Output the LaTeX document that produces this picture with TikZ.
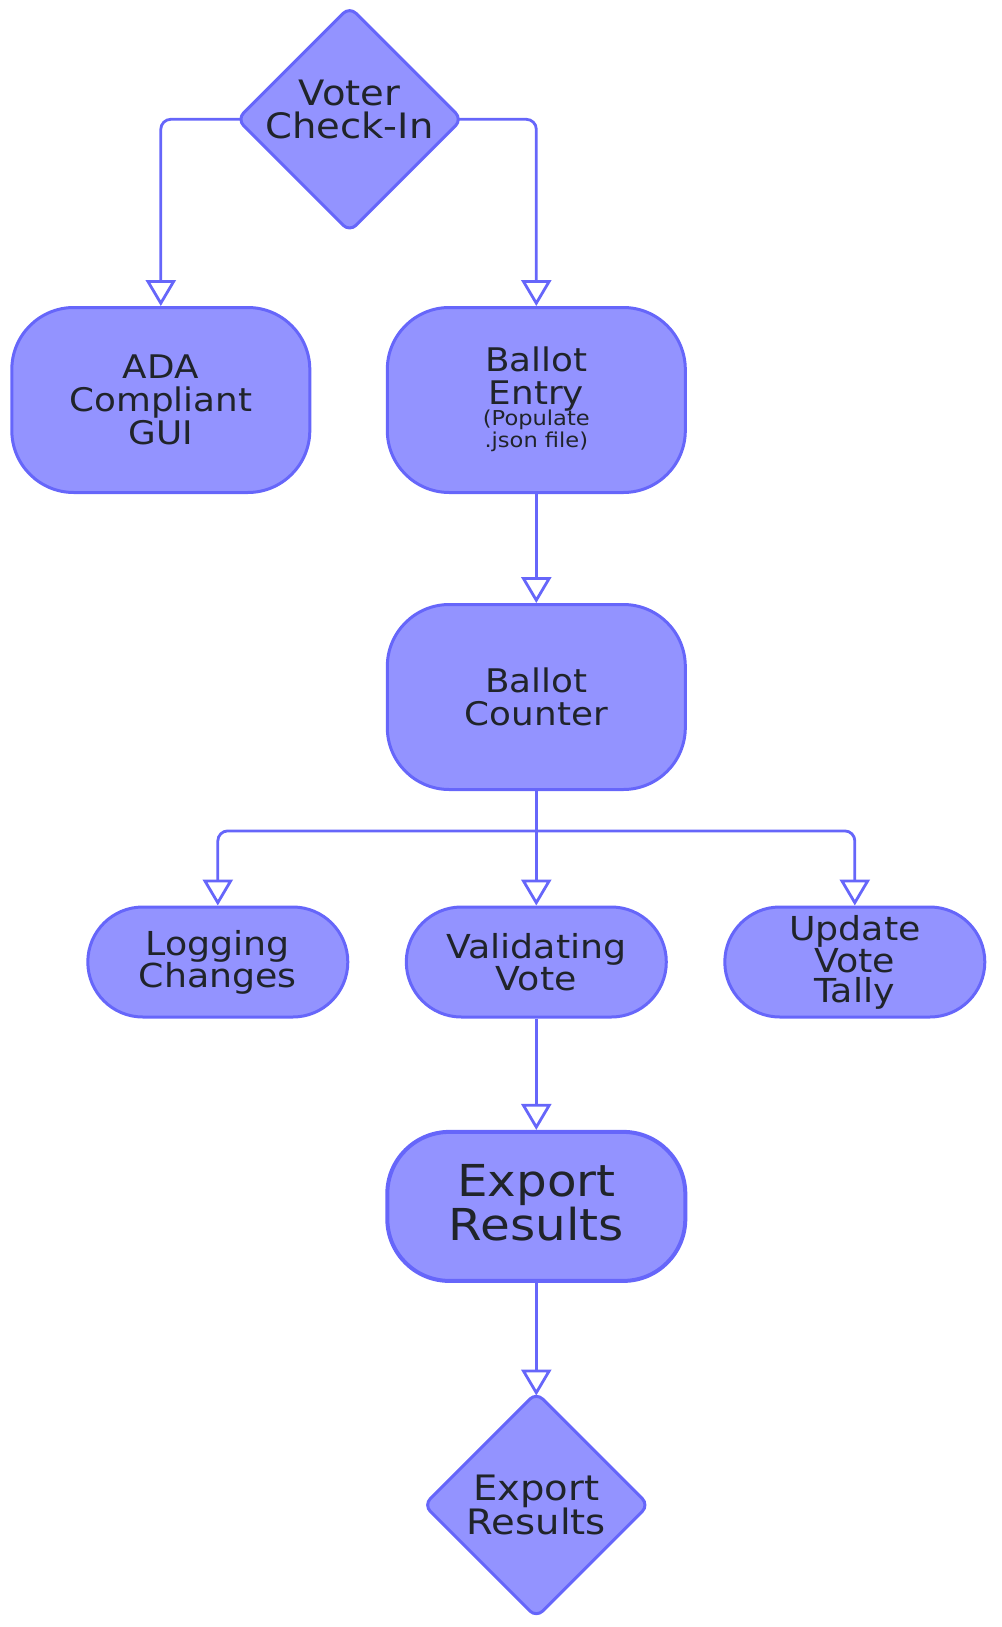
\documentclass[tikz,border=0pt]{standalone}
\usepackage{fontspec}
\setmainfont{DejaVu Sans}[FakeStretch=1.1]
\usetikzlibrary{arrows.meta,shapes.geometric}
\definecolor{boxfill}{RGB}{147,147,255}
\definecolor{boxline}{RGB}{102,102,250}
\definecolor{txt}{RGB}{32,36,42}
\begin{document}
\begin{tikzpicture}[x=1pt,y=-1pt,
  base/.style={draw=boxline, fill=boxfill, line width=3pt, text=txt, align=center, inner sep=0pt},
  bigbox/.style={base, rectangle, rounded corners=62pt, minimum width=298pt, minimum height=185pt, font=\fontsize{32.5}{33}\selectfont},
  pill/.style={base, rectangle, rounded corners=55pt, minimum width=260pt, minimum height=110pt, font=\fontsize{33}{32}\selectfont},
  decision/.style={base, diamond, rounded corners=9pt, minimum width=226pt, minimum height=226pt},
  dtext/.style={text=txt, align=center, font=\fontsize{35}{33}\selectfont, inner sep=0pt},
  conn/.style={draw=boxline, line width=2.8pt, rounded corners=10pt, -{Triangle[width=30pt,length=26pt,fill=white]}},
  plain/.style={draw=boxline, line width=2.8pt}
]
\useasboundingbox (0,0) rectangle (1001,1627);

\node[decision, label={[dtext, yshift=10pt]center:Voter\\Check-In}] (d1) at (349.6,119.3) {};
\node[bigbox] (ada) at (160.8,400) {ADA\\Compliant\\GUI};
\node[bigbox] (be) at (536.3,400) {Ballot\\Entry\\[-2pt]{\fontsize{20.5}{21}\selectfont\begin{tabular}{@{}c@{}}(Populate\\.json file)\end{tabular}}};
\node[bigbox] (bc) at (536.3,697) {Ballot\\Counter};
\node[pill] (log) at (217.8,962) {Logging\\Changes};
\node[pill] (val) at (536.3,962) {Validating\\Vote};
\node[pill, font=\fontsize{33}{30}\selectfont] (upd) at (854.8,962) {Update\\Vote\\Tally};
\node[bigbox, line width=4pt, minimum height=149pt, font=\fontsize{44}{40}\selectfont] (ex) at (536.3,1206.4) {Export\\Results\\[-32pt]};
\node[decision, label={[dtext]center:Export\\Results}] (d2) at (536.3,1505) {};

\draw[conn] ([xshift=5pt]d1.west) -| (ada.north);
\draw[conn] ([xshift=-5pt]d1.east) -| (be.north);
\draw[conn] (be.south) -- (bc.north);
\coordinate (br) at (536.3,830.9);
\draw[plain] (bc.south) -- (br);
\draw[conn] (br) -| (log.north);
\draw[conn] (bc.south) -- (val.north);
\draw[conn] (br) -| (upd.north);
\draw[conn] (val.south) -- (ex.north);
\draw[conn] (ex.south) -- ([yshift=-5pt]d2.north);
\end{tikzpicture}
\end{document}
